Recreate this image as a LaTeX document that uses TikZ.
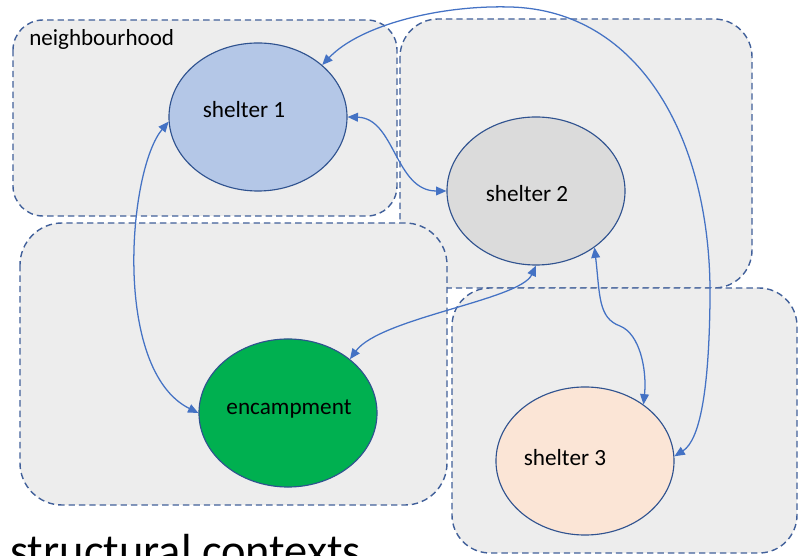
\documentclass[tikz,border=0pt]{standalone}
\usepackage{fontspec}
\setmainfont{Carlito}
\usetikzlibrary{arrows.meta,shapes.geometric}
\definecolor{boxfill}{HTML}{EDEDED}
\definecolor{boxline}{HTML}{41609A}
\definecolor{blobline}{HTML}{2F528F}
\definecolor{linkblue}{HTML}{4472C4}
\definecolor{sheltera}{HTML}{B4C7E7}
\definecolor{shelterb}{HTML}{DBDBDB}
\definecolor{shelterc}{HTML}{FBE5D6}
\definecolor{campgreen}{HTML}{00B050}
\tikzset{
  region/.style={fill=boxfill, draw=boxline, dash pattern=on 0.16cm off 0.1cm, line width=1pt},
  blob/.style={ellipse, draw=blobline, line width=0.8pt, minimum width=4.45cm, minimum height=3.7cm, inner sep=0pt},
  lbl/.style={font=\fontsize{16.5}{18}\selectfont, anchor=base, inner sep=0pt},
  link/.style={draw=linkblue, line width=0.9pt, {Triangle[length=0.26cm,width=0.22cm]}-{Triangle[length=0.26cm,width=0.22cm]}},
}
\begin{document}
\begin{tikzpicture}[x=0.025cm,y=-0.025cm]
\useasboundingbox (0,0) rectangle (798,556);
% Regions
\draw[region, rounded corners=0.95cm] (400,19) rectangle (752,288);
\draw[region, rounded corners=0.75cm] (13,20) rectangle (397,216);
\draw[region, rounded corners=1.05cm] (20,223) rectangle (447,505);
\draw[region, rounded corners=0.95cm] (452,288) rectangle (797,553);
\node[font=\fontsize{16.4}{18}\selectfont, anchor=base west, inner sep=0pt] (hood) at (29,46) {neighbourhood};
% Places
\node[blob, fill=sheltera] (s1) at (258,117) {};
\node[blob, fill=shelterb] (s2) at (536,191) {};
\node[blob, fill=campgreen] (enc) at (288,413) {};
\node[blob, fill=shelterc] (s3) at (585,461) {};
% Labels
\node[lbl] (t1) at (244,118) {shelter 1};
\node[lbl] (t2) at (527,202) {shelter 2};
\node[lbl] (tenc) at (289,415) {encampment};
\node[lbl] (t3) at (565,466) {shelter 3};
% Links
\draw[link] (s1.183) .. controls (128,170) and (112,370) .. (enc.west);
\draw[link] (s1.east) .. controls (395,118) and (395,191) .. (s2.west);
\draw[link] (enc.41) .. controls (380,318) and (520,300) .. (s2.south);
\draw[link] (s2.-44) .. controls (600,295) and (598,318) .. (620,326)
  .. controls (640,334) and (647,370) .. (s3.44);
\draw[link] (s1.39) .. controls (360,25) and (440,5) .. (510,7)
  .. controls (640,10) and (712,140) .. (710,300)
  .. controls (709,390) and (700,440) .. (s3.3);
% Caption
\node[font=\fontsize{33}{36}\selectfont, anchor=base west, inner sep=0pt] (caption) at (10,567) {structural contexts};
\end{tikzpicture}
\end{document}
